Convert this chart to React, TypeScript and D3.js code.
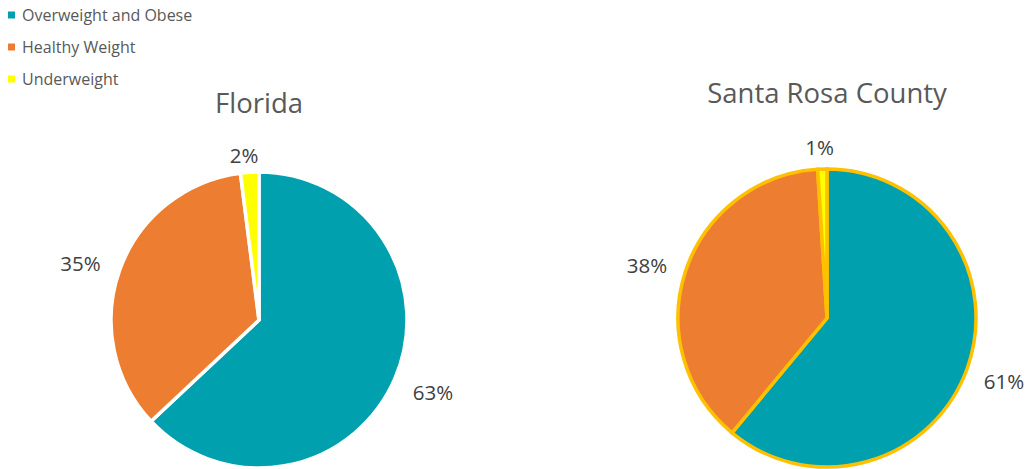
import React from "react";
import * as d3 from "d3";

const categories = ["Overweight and Obese", "Healthy Weight", "Underweight"];
const colors = ["#00A0AF", "#ED7D31", "#FFFF00"];
const floridaValues = [63, 35, 2];
const santaRosaValues = [61, 38, 1];
const titles = ["Florida", "Santa Rosa County"];

const font = "'Open Sans', 'Liberation Sans', sans-serif";
const textColor = "#595959";

type PieProps = {
  values: number[];
  cx: number;
  cy: number;
  r: number;
  title: string;
  titleY: number;
  stroke: string;
  strokeWidth: number;
  labelPos: [number, number][];
};

function Pie({ values, cx, cy, r, title, titleY, stroke, strokeWidth, labelPos }: PieProps) {
  const pie = d3.pie<number>().sort(null).value((d) => d);
  const arcs = pie(values);
  const arc = d3.arc<d3.PieArcDatum<number>>().innerRadius(0).outerRadius(r);
  return (
    <g>
      <text x={cx} y={titleY} textAnchor="middle" fontSize={27.5} fill={textColor} fontFamily={font}>
        {title}
      </text>
      <g transform={`translate(${cx},${cy})`}>
        {arcs.map((a, i) => (
          <path key={i} d={arc(a) || ""} fill={colors[i]} stroke={stroke} strokeWidth={strokeWidth} strokeLinejoin="miter" />
        ))}
      </g>
      {arcs.map((a, i) => (
        <text key={i} x={labelPos[i][0]} y={labelPos[i][1] + 7.5} textAnchor="middle" fontSize={20.5} fill="#404040" fontFamily={font}>
          {`${values[i]}%`}
        </text>
      ))}
    </g>
  );
}

export default function App() {
  return (
    <svg width={1027} height={469} style={{ position: "absolute", left: 0, top: 0, background: "#fff" }}>
      {categories.map((c, i) => (
        <g key={c} transform={`translate(0,${15 + i * 32})`}>
          <rect x={8} y={-3.5} width={7} height={7} fill={colors[i]} />
          <text x={22} y={5.5} fontSize={16} fill={textColor} fontFamily={font}>
            {c}
          </text>
        </g>
      ))}
      <Pie
        values={floridaValues}
        cx={259}
        cy={320}
        r={148}
        title={titles[0]}
        titleY={112.5}
        stroke="#ffffff"
        strokeWidth={3.5}
        labelPos={[[433, 392], [80.5, 263], [244, 155]]}
      />
      <Pie
        values={santaRosaValues}
        cx={827}
        cy={318}
        r={149}
        title={titles[1]}
        titleY={103}
        stroke="#FFC000"
        strokeWidth={3.5}
        labelPos={[[1004, 381], [647, 265.5], [819.5, 147]]}
      />
    </svg>
  );
}
